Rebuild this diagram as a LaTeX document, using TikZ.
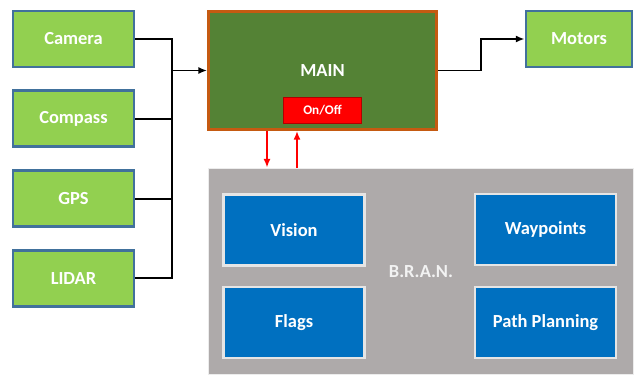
\documentclass[tikz,border=0pt]{standalone}
\usepackage{fontspec}
\setmainfont{Carlito}
\usetikzlibrary{arrows.meta,positioning}
\definecolor{sensorgreen}{RGB}{146,208,80}
\definecolor{sensorblue}{RGB}{65,113,156}
\definecolor{maingreen}{RGB}{84,130,53}
\definecolor{mainorange}{RGB}{197,90,17}
\definecolor{branblue}{RGB}{0,112,192}
\definecolor{brangray}{RGB}{174,170,170}

\begin{document}
\begin{tikzpicture}[
  x=0.02cm, y=-0.02cm,
  node distance=0.42cm,
  boxfont/.style={font=\bfseries\fontsize{10.5}{12}\selectfont},
  sensor/.style={rectangle, draw=sensorblue, line width=1.6pt, fill=sensorgreen,
    minimum width=2.42cm, minimum height=1.12cm, text=white, boxfont},
  mainbox/.style={rectangle, draw=mainorange, line width=1.6pt, fill=maingreen,
    minimum width=4.56cm, minimum height=2.36cm, text=white, boxfont},
  switch/.style={rectangle, draw=red!70!black, line width=0.6pt, fill=red,
    minimum width=1.56cm, minimum height=0.52cm, text=white,
    font=\bfseries\fontsize{7.5}{9}\selectfont},
  panel/.style={rectangle, draw=gray!15, line width=1pt, fill=brangray,
    minimum width=8.5cm, minimum height=4.12cm, text=gray!10, boxfont},
  module/.style={rectangle, draw=gray!20, line width=1.3pt, fill=branblue,
    minimum width=2.82cm, minimum height=1.42cm, text=white, boxfont},
  wire/.style={line width=1.1pt, black},
  arr/.style={wire, -{Latex[length=5pt,width=4pt]}},
  redarr/.style={line width=1pt, red, -{Latex[length=5pt,width=4pt]}},
]
\useasboundingbox (0,0) rectangle (635,375);

% sensors on the left
\node[sensor] (camera) at (73.5,39) {Camera};
\node[sensor, below=of camera] (compass) {Compass};
\node[sensor, below=of compass] (gps) {GPS};
\node[sensor, below=of gps] (lidar) {LIDAR};

% main controller and motors
\node[mainbox] (main) at (322.5,70.5) {MAIN};
\node[switch] (onoff) at (322.5,110.5) {On/Off};
\node[sensor, minimum width=2.12cm] (motors) at (579,39) {Motors};

% B.R.A.N. panel
\node[panel] (bran) at (421,271.5) {B.R.A.N.};
\node[module] (vision) at (294,230) {Vision};
\node[module] (flags) at (294,322.5) {Flags};
\node[module] (waypoints) at (545.5,229.5) {Waypoints};
\node[module] (path) at (545.5,322.5) {Path Planning};

\coordinate (bus) at (172,0);
\coordinate (mbend) at (481,0);
\coordinate (dn) at (267,0);
\coordinate (up) at (297,0);

\draw[wire] (camera.east) -- (camera.east -| bus) -- (lidar.east -| bus) -- (lidar.east);
\draw[wire] (compass.east) -- (compass.east -| bus);
\draw[wire] (gps.east) -- (gps.east -| bus);
\draw[arr] (main.west -| bus) -- (main.west);
\draw[arr] (main.east) -- (main.east -| mbend) |- (motors.west);

\draw[redarr] (main.south -| dn) -- (bran.north -| dn);
\draw[redarr] (bran.north -| up) -- (main.south -| up);
\end{tikzpicture}
\end{document}
